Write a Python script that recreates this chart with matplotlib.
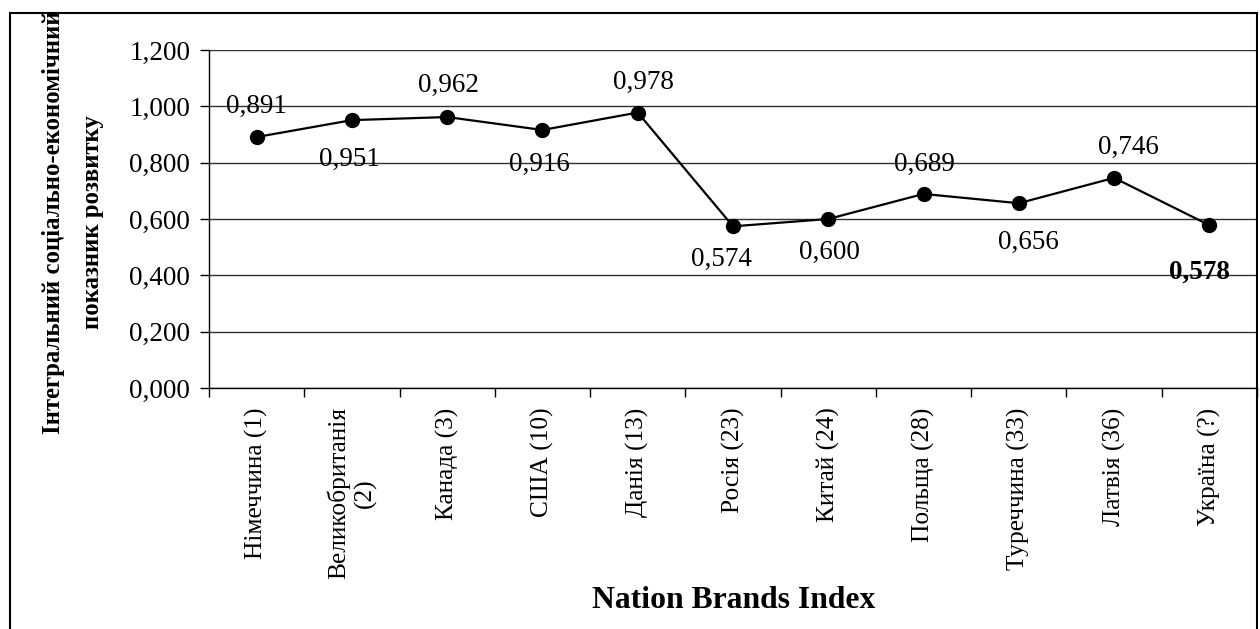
import matplotlib
matplotlib.use("Agg")
import matplotlib.pyplot as plt
from matplotlib.patches import Rectangle

# Data
countries = ['Німеччина (1)', 'Великобританія\n(2)', 'Канада (3)', 'США (10)',
             'Данія (13)', 'Росія (23)', 'Китай (24)', 'Польща (28)',
             'Туреччина (33)', 'Латвія (36)', 'Україна (?)']
index_values = [0.891, 0.951, 0.962, 0.916, 0.978, 0.574, 0.600, 0.689,
                0.656, 0.746, 0.578]
y_ticks = [0.0, 0.2, 0.4, 0.6, 0.8, 1.0, 1.2]

# label placement (points offset from marker), last one bold
label_dy = [22, -28, 23, -25, 22, -24, -24, 21, -28, 22, -34]
label_dx = [0, -2, 1, -2, 4, -8, 1, 1, 7, 10, -7]

plt.rcParams['font.family'] = ['Liberation Serif', 'DejaVu Serif']

fig = plt.figure(figsize=(12.6, 6.29), dpi=100)
ax = fig.add_axes([209 / 1260, 1 - 388 / 629, (1257 - 209) / 1260, (388 - 50) / 629])

x = list(range(len(countries)))
ax.plot(x, index_values, color='black', lw=1.6, marker='o', markersize=10,
        markerfacecolor='black', markeredgecolor='black', zorder=3)

for i, v in enumerate(index_values):
    bold = (i == len(index_values) - 1)
    ax.annotate('{:.3f}'.format(v).replace('.', ','), (i, v),
                xytext=(label_dx[i], label_dy[i]), textcoords='offset points',
                ha='center', va='center', fontsize=19.5,
                fontweight='bold' if bold else 'normal')

ax.set_xlim(-0.5, len(countries) - 0.5)
ax.set_ylim(0, 1.2)
ax.set_yticks(y_ticks)
ax.set_yticklabels(['{:.3f}'.format(t).replace('.', ',') for t in y_ticks], fontsize=19.5)
ax.yaxis.grid(True, color='#303030', lw=1.0)
ax.set_axisbelow(True)

ax.set_xticks(x)
ax.set_xticklabels(countries, rotation=90, fontsize=18.3, ha='center', va='top',
                   multialignment='center')
ax.set_xticks([i - 0.5 for i in range(len(countries) + 1)], minor=True)
ax.tick_params(axis='x', which='major', length=0, pad=14)
ax.tick_params(axis='x', which='minor', length=6.5, width=1.0, direction='out')
ax.tick_params(axis='y', length=6.5, width=1.0, pad=7)

for s in ['top', 'right']:
    ax.spines[s].set_visible(False)
for s in ['left', 'bottom']:
    ax.spines[s].set_linewidth(1.0)

fig.text(734 / 1260, 1 - 601 / 629, 'Nation Brands Index', ha='center', va='center',
         fontsize=22.8, fontweight='bold')
fig.text(73 / 1260, 1 - 222 / 629, 'Інтегральний соціально-економічний\nпоказник розвитку',
         rotation=90, ha='center', va='center', fontsize=17.8, fontweight='bold',
         linespacing=1.9, multialignment='center')

# outer frame
fig.patches.append(Rectangle((10 / 1260, -0.01), (1257 - 10) / 1260, 1 - 13 / 629 + 0.01,
                             transform=fig.transFigure, fill=False, edgecolor='black',
                             lw=1.5, zorder=0))

fig.savefig('out.png', dpi=100)
